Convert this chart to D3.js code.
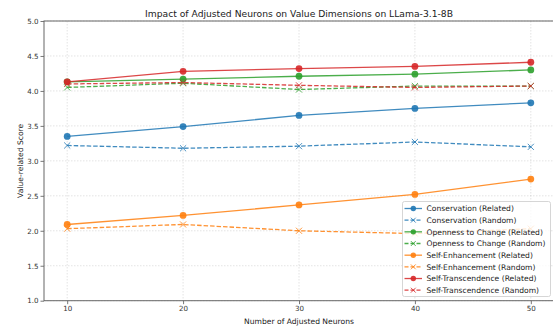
<!DOCTYPE html>
<html>
<head>
<meta charset="utf-8">
<script src="https://cdn.jsdelivr.net/npm/d3@7"></script>
<style>
  html, body { margin: 0; padding: 0; background: #fff; }
  svg { display: block; font-family: "DejaVu Sans", sans-serif; }
</style>
</head>
<body>
<svg id="chart" width="553" height="327"></svg>
<script>
// Number of adjusted neurons (x axis)
const neurons = [10, 20, 30, 40, 50];

// Value-related scores per dimension
const conservationRelated   = [3.35, 3.49, 3.65, 3.75, 3.83];
const conservationRandom    = [3.22, 3.18, 3.21, 3.27, 3.20];
const opennessRelated       = [4.13, 4.17, 4.21, 4.24, 4.30];
const opennessRandom        = [4.05, 4.11, 4.02, 4.07, 4.07];
const enhancementRelated    = [2.09, 2.22, 2.37, 2.52, 2.74];
const enhancementRandom     = [2.03, 2.09, 2.00, 1.96, 2.03];
const transcendenceRelated  = [4.13, 4.28, 4.32, 4.35, 4.41];
const transcendenceRandom   = [4.10, 4.12, 4.08, 4.05, 4.07];

const yTicks = [1.0, 1.5, 2.0, 2.5, 3.0, 3.5, 4.0, 4.5, 5.0];

const series = [
  { name: "Conservation (Related)",        values: conservationRelated,  color: "#1f77b4", random: false },
  { name: "Conservation (Random)",         values: conservationRandom,   color: "#1f77b4", random: true },
  { name: "Openness to Change (Related)",  values: opennessRelated,      color: "#2ca02c", random: false },
  { name: "Openness to Change (Random)",   values: opennessRandom,       color: "#2ca02c", random: true },
  { name: "Self-Enhancement (Related)",    values: enhancementRelated,   color: "#ff7f0e", random: false },
  { name: "Self-Enhancement (Random)",     values: enhancementRandom,    color: "#ff7f0e", random: true },
  { name: "Self-Transcendence (Related)",  values: transcendenceRelated, color: "#d62728", random: false },
  { name: "Self-Transcendence (Random)",   values: transcendenceRandom,  color: "#d62728", random: true }
];

const svg = d3.select("#chart");
const margin = { left: 44, top: 21, right: 554, bottom: 300.7 };

const x = d3.scaleLinear().domain([8, 52]).range([margin.left, margin.right]);
const y = d3.scaleLinear().domain([1, 5]).range([margin.bottom, margin.top]);

const plotW = margin.right - margin.left;
const plotH = margin.bottom - margin.top;

// Grid
const grid = svg.append("g").attr("class", "grid");
grid.selectAll("line.gx").data(neurons).join("line")
  .attr("x1", d => x(d)).attr("x2", d => x(d))
  .attr("y1", margin.top).attr("y2", margin.bottom)
  .attr("stroke", "#b0b0b0").attr("stroke-opacity", 0.45)
  .attr("stroke-width", 0.8).attr("stroke-dasharray", "1.5,1.5");
grid.selectAll("line.gy").data(yTicks).join("line")
  .attr("x1", margin.left).attr("x2", margin.right)
  .attr("y1", d => y(d)).attr("y2", d => y(d))
  .attr("stroke", "#b0b0b0").attr("stroke-opacity", 0.45)
  .attr("stroke-width", 0.8).attr("stroke-dasharray", "1.5,1.5");

// Axes
const xAxis = d3.axisBottom(x).tickValues(neurons).tickSize(3.5).tickPadding(2).tickFormat(d3.format("d"));
const yAxis = d3.axisLeft(y).tickValues(yTicks).tickSize(3.5).tickPadding(2).tickFormat(d3.format(".1f"));

const gx = svg.append("g").attr("transform", `translate(0,${margin.bottom})`).call(xAxis);
const gy = svg.append("g").attr("transform", `translate(${margin.left},0)`).call(yAxis);
[gx, gy].forEach(g => {
  g.select(".domain").remove();
  g.selectAll(".tick line").attr("stroke", "#555").attr("stroke-width", 0.8);
  g.selectAll(".tick text").attr("fill", "#333").style("font-size", "7.1px")
    .style("font-family", "'DejaVu Sans', sans-serif");
});

// Spines
svg.append("rect")
  .attr("x", margin.left).attr("y", margin.top)
  .attr("width", plotW).attr("height", plotH)
  .attr("fill", "none").attr("stroke", "#666").attr("stroke-width", 1);

// Lines and markers
const line = d3.line().x((d, i) => x(neurons[i])).y(d => y(d));
const plot = svg.append("g").attr("class", "series");

function drawMarker(g, cx, cy, s, r) {
  if (s.random) {
    const k = r * 0.9;
    g.append("path")
      .attr("d", `M${cx - k},${cy - k}L${cx + k},${cy + k}M${cx - k},${cy + k}L${cx + k},${cy - k}`)
      .attr("stroke", s.color).attr("stroke-width", 1).attr("fill", "none").attr("opacity", 0.8);
  } else {
    g.append("circle").attr("cx", cx).attr("cy", cy).attr("r", r)
      .attr("fill", s.color).attr("opacity", 0.9);
  }
}

series.forEach(s => {
  const g = plot.append("g");
  g.append("path").datum(s.values)
    .attr("d", line)
    .attr("fill", "none")
    .attr("stroke", s.color)
    .attr("stroke-width", 1.3)
    .attr("stroke-opacity", 0.85)
    .attr("stroke-dasharray", s.random ? "4.5,2" : null);
  s.values.forEach((v, i) => drawMarker(g, x(neurons[i]), y(v), s, 3.4));
});

// Title and axis labels
svg.append("text")
  .attr("x", 299).attr("y", 16.5)
  .attr("text-anchor", "middle").attr("fill", "#222")
  .style("font-size", "9.2px")
  .text("Impact of Adjusted Neurons on Value Dimensions on LLama-3.1-8B");

svg.append("text")
  .attr("x", 299).attr("y", 323.5)
  .attr("text-anchor", "middle").attr("fill", "#222")
  .style("font-size", "7.6px")
  .text("Number of Adjusted Neurons");

svg.append("text")
  .attr("transform", `translate(22.5,${(margin.top + margin.bottom) / 2}) rotate(-90)`)
  .attr("text-anchor", "middle").attr("fill", "#222")
  .style("font-size", "7.6px")
  .text("Value-related Score");

// Legend
const lg = svg.append("g").attr("transform", "translate(402.5,201.5)");
lg.append("rect")
  .attr("width", 148).attr("height", 95).attr("rx", 2)
  .attr("fill", "#fff").attr("fill-opacity", 0.8)
  .attr("stroke", "#ccc").attr("stroke-width", 0.8);
series.forEach((s, i) => {
  const cy = 7 + i * 11.67;
  const row = lg.append("g");
  row.append("line")
    .attr("x1", 2).attr("x2", 19.5).attr("y1", cy).attr("y2", cy)
    .attr("stroke", s.color).attr("stroke-width", 1.3).attr("stroke-opacity", 0.85)
    .attr("stroke-dasharray", s.random ? "4,2" : null);
  drawMarker(row, 10.8, cy, s, 2.7);
  row.append("text")
    .attr("x", 24).attr("y", cy).attr("dy", "0.35em")
    .attr("fill", "#222").style("font-size", "7.6px")
    .text(s.name);
});
</script>
</body>
</html>
